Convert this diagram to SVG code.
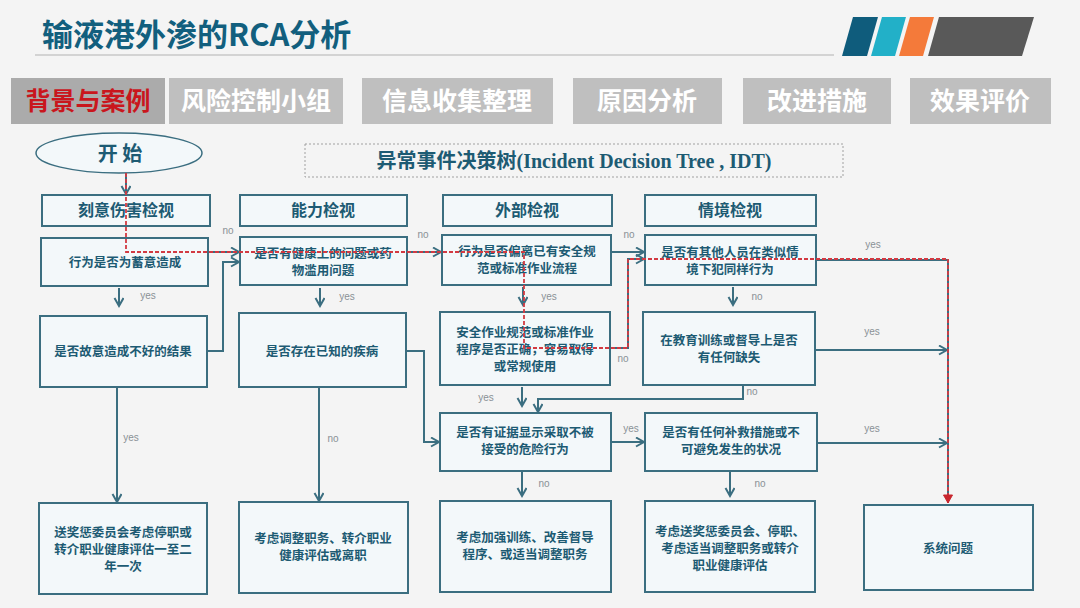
<svg xmlns="http://www.w3.org/2000/svg" width="1080" height="608" viewBox="0 0 1080 608">
<defs>
<style>
.cjk{font-family:"Noto Sans CJK SC","Liberation Sans",sans-serif;font-weight:700}
.box{fill:#f3f8fa;stroke:#3b6e80;stroke-width:2}
.hd{font-size:16px;fill:#1d5b73;text-anchor:middle}
.q{font-size:12.5px;fill:#1d5b73;text-anchor:middle}
.tab{fill:#bfbfbf}
.tabt{font-size:25px;fill:#ffffff;text-anchor:middle}
.lbl{font-family:"Liberation Sans",Arial,sans-serif;font-size:10px;fill:#8a9196;text-anchor:middle}
.ln{fill:none;stroke:#3b6e80;stroke-width:2;marker-end:url(#arr)}
.ln0{fill:none;stroke:#3b6e80;stroke-width:2}
.red{fill:none;stroke:#d23a42;stroke-width:1.8;stroke-dasharray:4 2;marker-end:url(#rarr)}
</style>
<marker id="arr" markerUnits="userSpaceOnUse" markerWidth="12" markerHeight="12" refX="9" refY="5" orient="auto">
<path d="M1,0.5 L9,5 L1,9.5" fill="none" stroke="#3b6e80" stroke-width="2"/>
</marker>
<marker id="rarr" markerUnits="userSpaceOnUse" markerWidth="12" markerHeight="12" refX="9" refY="5" orient="auto">
<path d="M1,0.5 L9,5 L1,9.5 Z" fill="#c8262e" stroke="#c8262e" stroke-width="1"/>
</marker>
</defs>
<rect width="1080" height="608" fill="#f4f4f4"/>

<g id="header">
<text x="42" y="46" class="cjk" font-size="31" fill="#125f7e">输液港外渗的RCA分析</text>
<line x1="35" y1="55" x2="834" y2="55" stroke="#c8c8c8" stroke-width="1.5"/>
<polygon points="842,56 867,56 878,17 853,17" fill="#0f5c7c"/>
<polygon points="871,56 895,56 906,17 882,17" fill="#22b0c8"/>
<polygon points="899,56 923,56 934,17 910,17" fill="#f47a3a"/>
<polygon points="928,56 1022,56 1034,17 939,17" fill="#595959"/>
</g>

<g id="tabs">
<rect x="11" y="78" width="154" height="46" fill="#ababab"/>
<text x="88" y="110" class="cjk tabt" style="fill:#c9161d">背景与案例</text>
<rect x="169" y="78" width="174" height="46" class="tab"/>
<text x="256" y="110" class="cjk tabt">风险控制小组</text>
<rect x="362" y="78" width="191" height="46" class="tab"/>
<text x="457" y="110" class="cjk tabt">信息收集整理</text>
<rect x="573" y="78" width="149" height="46" class="tab"/>
<text x="647" y="110" class="cjk tabt">原因分析</text>
<rect x="743" y="78" width="148" height="46" class="tab"/>
<text x="817" y="110" class="cjk tabt">改进措施</text>
<rect x="910" y="78" width="141" height="46" class="tab"/>
<text x="980" y="110" class="cjk tabt">效果评价</text>
</g>

<g id="idt-title">
<rect x="305" y="144" width="538" height="33" fill="none" stroke="#a0a0a0" stroke-width="1" stroke-dasharray="2 2"/>
<text x="574" y="168" text-anchor="middle" font-size="20" fill="#1d5b73"><tspan class="cjk">异常事件决策树</tspan><tspan font-family="Liberation Serif,serif" font-weight="700">(Incident Decision Tree , IDT)</tspan></text>
</g>

<g id="start">
<ellipse cx="119" cy="153" rx="83" ry="20" fill="#f3f8fa" stroke="#3b6e80" stroke-width="1.5"/>
<text x="120" y="161" class="cjk" font-size="20" fill="#1d5b73" text-anchor="middle">开 始</text>
</g>

<g id="h1"><rect x="42" y="195" width="168" height="31" class="box"/><text x="126" y="216" class="cjk hd">刻意伤害检视</text></g>
<g id="h2"><rect x="240" y="195" width="167" height="31" class="box"/><text x="323" y="216" class="cjk hd">能力检视</text></g>
<g id="h3"><rect x="443" y="195" width="169" height="31" class="box"/><text x="527" y="216" class="cjk hd">外部检视</text></g>
<g id="h4"><rect x="645" y="195" width="171" height="31" class="box"/><text x="730" y="216" class="cjk hd">情境检视</text></g>

<g id="c1q1"><rect x="41" y="238" width="167" height="48" class="box"/><text x="125" y="267" class="cjk q">行为是否为蓄意造成</text></g>
<g id="c1q2"><rect x="40" y="316" width="167" height="71" class="box"/><text x="123" y="356" class="cjk q">是否故意造成不好的结果</text></g>
<g id="c1r"><rect x="39" y="503" width="168" height="91" class="box"/>
<text class="cjk q"><tspan x="123" y="537">送奖惩委员会考虑停职或</tspan><tspan x="123" y="554">转介职业健康评估一至二</tspan><tspan x="123" y="571">年一次</tspan></text></g>

<g id="c2q1"><rect x="240" y="237" width="167" height="48" class="box"/>
<text class="cjk q"><tspan x="323" y="258">是否有健康上的问题或药</tspan><tspan x="323" y="275">物滥用问题</tspan></text></g>
<g id="c2q2"><rect x="239" y="313" width="167" height="74" class="box"/><text x="322" y="356" class="cjk q">是否存在已知的疾病</text></g>
<g id="c2r"><rect x="239" y="502" width="169" height="91" class="box"/>
<text class="cjk q"><tspan x="323" y="543">考虑调整职务、转介职业</tspan><tspan x="323" y="560">健康评估或离职</tspan></text></g>

<g id="c3q1"><rect x="442" y="235" width="169" height="50" class="box"/>
<text class="cjk q"><tspan x="527" y="256">行为是否偏离已有安全规</tspan><tspan x="527" y="273">范或标准作业流程</tspan></text></g>
<g id="c3q2"><rect x="440" y="312" width="170" height="73" class="box"/>
<text class="cjk q"><tspan x="525" y="336.5">安全作业规范或标准作业</tspan><tspan x="525" y="353.5">程序是否正确，容易取得</tspan><tspan x="525" y="370.5">或常规使用</tspan></text></g>
<g id="c3q3"><rect x="440" y="413" width="171" height="58" class="box"/>
<text class="cjk q"><tspan x="525" y="437">是否有证据显示采取不被</tspan><tspan x="525" y="454">接受的危险行为</tspan></text></g>
<g id="c3r"><rect x="440" y="501" width="171" height="91" class="box"/>
<text class="cjk q"><tspan x="525" y="542">考虑加强训练、改善督导</tspan><tspan x="525" y="559">程序、或适当调整职务</tspan></text></g>

<g id="c4q1"><rect x="645" y="235" width="171" height="50" class="box"/>
<text class="cjk q"><tspan x="730" y="257">是否有其他人员在类似情</tspan><tspan x="730" y="274">境下犯同样行为</tspan></text></g>
<g id="c4q2"><rect x="643" y="312" width="172" height="73" class="box"/>
<text class="cjk q"><tspan x="729" y="345">在教育训练或督导上是否</tspan><tspan x="729" y="362">有任何缺失</tspan></text></g>
<g id="c4q3"><rect x="645" y="413" width="172" height="58" class="box"/>
<text class="cjk q"><tspan x="731" y="437">是否有任何补救措施或不</tspan><tspan x="731" y="454">可避免发生的状况</tspan></text></g>
<g id="c4r"><rect x="645" y="501" width="170" height="91" class="box"/>
<text class="cjk q"><tspan x="730" y="535.5">考虑送奖惩委员会、停职、</tspan><tspan x="730" y="552.5">考虑适当调整职务或转介</tspan><tspan x="730" y="569.5">职业健康评估</tspan></text></g>

<g id="sys"><rect x="864" y="505" width="169" height="85" class="box"/><text x="948" y="553" class="cjk q">系统问题</text></g>

<g id="connectors">
<path d="M126,173 V194" class="ln"/>
<path d="M119,288 V306" class="ln"/>
<path d="M208,252 H239" class="ln"/>
<path d="M207,351 H223 V262 H239" class="ln"/>
<path d="M117,388 V502" class="ln"/>
<path d="M320,288 V306" class="ln"/>
<path d="M407,252 H441" class="ln"/>
<path d="M319,387 V501" class="ln"/>
<path d="M406,351 H424 V442 H439" class="ln"/>
<path d="M523,287 V305" class="ln"/>
<path d="M611,252 H644" class="ln"/>
<path d="M610,348 H628 V259 H644" class="ln"/>
<path d="M522,387 V406" class="ln"/>
<path d="M733,287 V305" class="ln"/>
<path d="M743,385 V399 H538 V412" class="ln"/>
<path d="M611,442 H644" class="ln"/>
<path d="M522,471 V496" class="ln"/>
<path d="M730,471 V496" class="ln"/>
<path d="M816,260 H948 V503" class="ln0"/>
<path d="M815,350 H947" class="ln"/>
<path d="M817,443 H947" class="ln"/>
<path d="M126,173 V252 H524 V348 H628 V259 H948 V503" class="red"/>
<text x="148" y="299" class="lbl">yes</text>
<text x="228" y="234" class="lbl">no</text>
<text x="131" y="441" class="lbl">yes</text>
<text x="347" y="300" class="lbl">yes</text>
<text x="423" y="238" class="lbl">no</text>
<text x="333" y="442" class="lbl">no</text>
<text x="549" y="300" class="lbl">yes</text>
<text x="629" y="238" class="lbl">no</text>
<text x="623" y="362" class="lbl">no</text>
<text x="486" y="401" class="lbl">yes</text>
<text x="757" y="300" class="lbl">no</text>
<text x="752" y="395" class="lbl">no</text>
<text x="631" y="432" class="lbl">yes</text>
<text x="544" y="487" class="lbl">no</text>
<text x="760" y="487" class="lbl">no</text>
<text x="873" y="248" class="lbl">yes</text>
<text x="872" y="335" class="lbl">yes</text>
<text x="872" y="432" class="lbl">yes</text>
</g>
</svg>
